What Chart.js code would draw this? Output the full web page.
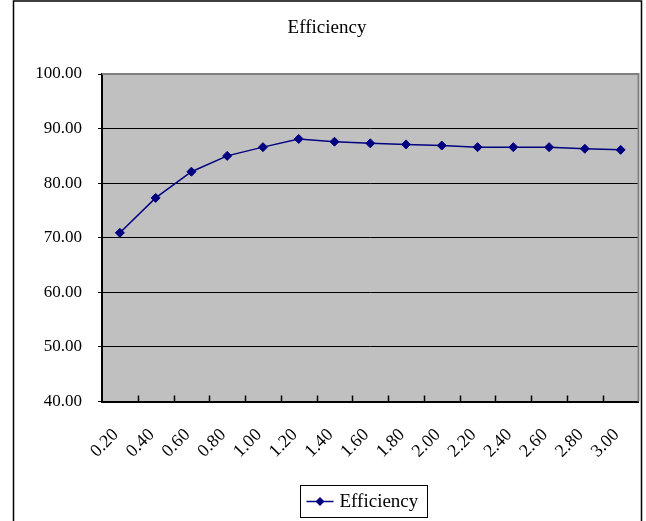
<!DOCTYPE html>
<html>
<head>
<meta charset="utf-8">
<title>Efficiency</title>
<script src="https://cdn.jsdelivr.net/npm/chart.js@4.4.0/dist/chart.umd.min.js"></script>
<style>
  html, body { margin: 0; padding: 0; background: #fff; }
  #wrap { width: 646px; height: 521px; position: relative; }
</style>
</head>
<body>
<div id="wrap"><canvas id="effChart"></canvas></div>
<script>
// data
const categoryLabels = ["0.20", "0.40", "0.60", "0.80", "1.00", "1.20", "1.40", "1.60",
  "1.80", "2.00", "2.20", "2.40", "2.60", "2.80", "3.00"];
const efficiencyValues = [70.9, 77.3, 82.1, 85.0, 86.6, 88.1, 87.6, 87.3,
  87.1, 86.9, 86.6, 86.6, 86.6, 86.3, 86.1];
const yMin = 40;
const yMax = 100;
const yStep = 10;
const chartTitle = "Efficiency";
const seriesName = "Efficiency";

const FONT = "'Liberation Serif', 'Times New Roman', serif";
const NAVY = "#000080";
const PLOT_BG = "#C0C0C0";

function drawDiamond(ctx, x, y, r) {
  ctx.beginPath();
  ctx.moveTo(x, y - r);
  ctx.lineTo(x + r, y);
  ctx.lineTo(x, y + r);
  ctx.lineTo(x - r, y);
  ctx.closePath();
  ctx.fill();
}

// excel-ish frame, plot fill, inner tick marks, title and legend box
const excelLook = {
  id: "excelLook",
  beforeDraw(chart) {
    const { ctx, chartArea: a, width, height } = chart;
    ctx.save();
    ctx.fillStyle = "#fff";
    ctx.fillRect(0, 0, width, height);
    ctx.fillStyle = PLOT_BG;
    ctx.fillRect(a.left, a.top, a.right - a.left, a.bottom - a.top);
    ctx.restore();
  },
  beforeDatasetsDraw(chart) {
    const { ctx, chartArea: a } = chart;
    const x = chart.scales.x;
    ctx.save();
    // plot border (top / right)
    ctx.strokeStyle = "#808080";
    ctx.lineWidth = 2;
    ctx.beginPath();
    ctx.moveTo(a.left, a.top);
    ctx.lineTo(a.right, a.top);
    ctx.lineTo(a.right, a.bottom);
    ctx.stroke();
    // tick marks between categories, pointing up
    const half = (x.getPixelForValue(1) - x.getPixelForValue(0)) / 2;
    ctx.strokeStyle = "#000";
    ctx.lineWidth = 1.5;
    ctx.beginPath();
    for (let i = 1; i < categoryLabels.length; i++) {
      const px = Math.round(x.getPixelForValue(i) - half) + 0.5;
      ctx.moveTo(px, a.bottom);
      ctx.lineTo(px, a.bottom - 6);
    }
    ctx.stroke();
    ctx.restore();
  },
  afterDraw(chart) {
    const { ctx, height } = chart;
    ctx.save();
    // outer frame
    ctx.strokeStyle = "#000";
    ctx.lineWidth = 1.5;
    ctx.beginPath();
    ctx.moveTo(13.5, height);
    ctx.lineTo(13.5, 1);
    ctx.lineTo(641.5, 1);
    ctx.lineTo(641.5, height);
    ctx.stroke();

    // title
    ctx.fillStyle = "#000";
    ctx.font = "19px " + FONT;
    ctx.textAlign = "center";
    ctx.textBaseline = "middle";
    ctx.fillText(chartTitle, 327, 28);

    // legend
    const lg = { left: 300.5, top: 485.5, w: 127, h: 32 };
    ctx.lineWidth = 1;
    ctx.strokeStyle = "#000";
    ctx.strokeRect(lg.left, lg.top, lg.w, lg.h);
    const cy = lg.top + lg.h / 2;
    ctx.strokeStyle = NAVY;
    ctx.lineWidth = 1.5;
    ctx.beginPath();
    ctx.moveTo(lg.left + 6, cy);
    ctx.lineTo(lg.left + 33, cy);
    ctx.stroke();
    ctx.fillStyle = NAVY;
    drawDiamond(ctx, lg.left + 19.5, cy, 4.5);
    ctx.fillStyle = "#000";
    ctx.textAlign = "left";
    ctx.fillText(seriesName, lg.left + 39, cy + 1);
    ctx.restore();
  },
};

const ctx = document.getElementById("effChart").getContext("2d");
const chart = new Chart(ctx, {
  type: "line",
  data: {
    labels: categoryLabels,
    datasets: [
      {
        label: seriesName,
        data: efficiencyValues,
        borderColor: NAVY,
        backgroundColor: NAVY,
        borderWidth: 1.5,
        pointStyle: "rectRot",
        pointRadius: 4.5,
        pointBackgroundColor: NAVY,
        pointBorderColor: NAVY,
        pointBorderWidth: 1,
        tension: 0,
        fill: false,
      },
    ],
  },
  options: {
    responsive: true,
    maintainAspectRatio: false,
    animation: false,
    layout: {
      padding: { left: 13, right: 7.5, top: 74, bottom: 0 },
    },
    plugins: {
      legend: { display: false },
      title: { display: false },
      tooltip: { enabled: false },
    },
    scales: {
      x: {
        type: "category",
        offset: true,
        grid: { display: false, drawTicks: false },
        border: { display: true, color: "#000", width: 2 },
        ticks: {
          autoSkip: false,
          maxRotation: 45,
          minRotation: 45,
          padding: 23,
          labelOffset: -4,
          color: "#000",
          font: { family: FONT, size: 18 },
        },
        afterFit: (scale) => {
          scale.height = 119.5;
          scale.paddingLeft = 0;
          scale.paddingRight = 0;
        },
      },
      y: {
        min: yMin,
        max: yMax,
        ticks: {
          stepSize: yStep,
          padding: 16,
          color: "#000",
          font: { family: FONT, size: 17 },
          callback: function (value) {
            return Number(value).toFixed(2);
          },
        },
        grid: {
          color: "#000",
          lineWidth: 1,
          drawTicks: true,
          tickLength: 4,
        },
        border: { display: true, color: "#000", width: 2 },
        afterFit: (scale) => {
          scale.width = 89;
        },
      },
    },
  },
  plugins: [excelLook],
});
</script>
</body>
</html>
